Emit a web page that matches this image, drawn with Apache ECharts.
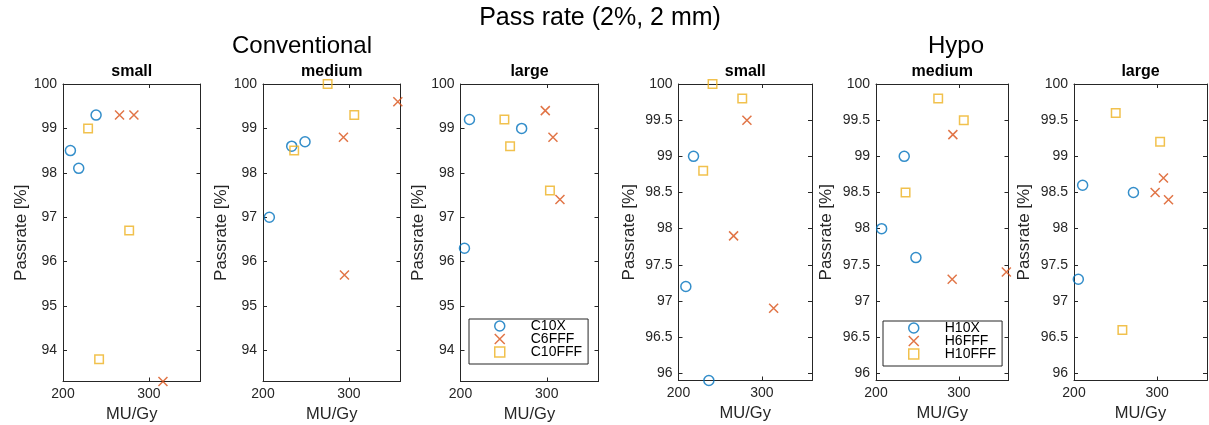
<!DOCTYPE html>
<html>
<head>
<meta charset="utf-8">
<script src="https://cdn.jsdelivr.net/npm/echarts@6/dist/echarts.min.js"></script>
<style>
  html, body { margin: 0; background: #fff; }
  #chart { width: 1209px; height: 425px; }
</style>
</head>
<body>
<div id="chart"></div>
<script>
// data: [MU/Gy, passrate %]
const convSmallC10X = [[208.6, 98.5], [218.3, 98.1], [238.5, 99.3]]
const convSmallC6FFF = [[265.8, 99.3], [282.5, 99.3], [316.3, 93.3]]
const convSmallC10FFF = [[229.2, 99.0], [277.0, 96.7], [242.0, 93.8]]

const convMediumC10X = [[207.4, 97.0], [233.4, 98.6], [248.9, 98.7]]
const convMediumC6FFF = [[293.6, 98.8], [294.8, 95.7], [356.9, 99.6]]
const convMediumC10FFF = [[275.2, 100.0], [306.2, 99.3], [236.3, 98.5]]

const convLargeC10X = [[210.4, 99.2], [204.6, 96.3], [270.9, 99.0]]
const convLargeC6FFF = [[298.3, 99.4], [307.2, 98.8], [315.3, 97.4]]
const convLargeC10FFF = [[250.9, 99.2], [257.5, 98.6], [303.7, 97.6]]

const hypoSmallH10X = [[218.0, 99.0], [208.8, 97.2], [236.4, 95.9]]
const hypoSmallH6FFF = [[282.0, 99.5], [266.0, 97.9], [314.0, 96.9]]
const hypoSmallH10FFF = [[240.8, 100.0], [276.4, 99.8], [229.6, 98.8]]

const hypoMediumH10X = [[206.8, 98.0], [234.1, 99.0], [248.2, 97.6]]
const hypoMediumH6FFF = [[292.8, 99.3], [292.0, 97.3], [357.4, 97.4]]
const hypoMediumH10FFF = [[275.1, 99.8], [306.0, 99.5], [235.7, 98.5]]

const hypoLargeH10X = [[210.4, 98.6], [205.2, 97.3], [271.5, 98.5]]
const hypoLargeH6FFF = [[297.6, 98.5], [307.6, 98.7], [313.7, 98.4]]
const hypoLargeH10FFF = [[250.2, 99.6], [303.6, 99.2], [258.2, 96.6]]

const convNames = ['C10X', 'C6FFF', 'C10FFF']
const hypoNames = ['H10X', 'H6FFF', 'H10FFF']
const sizeNames = ['small', 'medium', 'large']

const xTicks = [200, 300]
const convYTicks = [94, 95, 96, 97, 98, 99, 100]
const hypoYTicks = [96, 96.5, 97, 97.5, 98, 98.5, 99, 99.5, 100]

const ink = '#262626'
const font = 'Liberation Sans, Arial, Helvetica, sans-serif'
const colors = ['#0072BD', '#D95319', '#EDB120']
// circle, cross, square (paths so the legend keeps the aspect)
const symbols = ['circle', 'path://M0,0L10,10M0,10L10,0', 'path://M0,0L10,0L10,10L0,10Z']
const symbolSizes = [10, 9, 8.5]

// subplot boxes: left, top, width, height
const boxes = [
  [63, 84, 137.5, 297.5],
  [263, 84, 137.5, 297.5],
  [460.5, 84, 138, 297.5],
  [678.5, 84, 133.5, 296.5],
  [876, 84, 132.5, 296.5],
  [1074, 84, 133, 296.5]
]

const panels = [
  { names: convNames, data: [convSmallC10X, convSmallC6FFF, convSmallC10FFF] },
  { names: convNames, data: [convMediumC10X, convMediumC6FFF, convMediumC10FFF] },
  { names: convNames, data: [convLargeC10X, convLargeC6FFF, convLargeC10FFF] },
  { names: hypoNames, data: [hypoSmallH10X, hypoSmallH6FFF, hypoSmallH10FFF] },
  { names: hypoNames, data: [hypoMediumH10X, hypoMediumH6FFF, hypoMediumH10FFF] },
  { names: hypoNames, data: [hypoLargeH10X, hypoLargeH6FFF, hypoLargeH10FFF] }
]

const grid = []
const xAxis = []
const yAxis = []
const series = []
const graphic = []

panels.forEach((p, i) => {
  const b = boxes[i]
  const conv = i < 3
  const yMin = conv ? 93.3 : 95.9
  const yTicks = conv ? convYTicks : hypoYTicks
  grid.push({ left: b[0], top: b[1], width: b[2], height: b[3], outerBoundsMode: 'none', containLabel: false })

  const tickStyle = { inside: true, length: 4, lineStyle: { color: ink, width: 1 } }
  const lineStyle = { show: true, onZero: false, lineStyle: { color: ink, width: 1 } }

  // bottom / top x axes
  xAxis.push({
    gridIndex: i, type: 'value', min: 200, max: 360, position: 'bottom',
    name: 'MU/Gy', nameLocation: 'middle', nameGap: 23,
    nameTextStyle: { fontSize: 16.5, color: ink, fontFamily: font },
    axisLine: lineStyle,
    axisTick: Object.assign({ customValues: xTicks }, tickStyle),
    axisLabel: { customValues: xTicks, fontSize: 14, color: ink, fontFamily: font, margin: 6 },
    splitLine: { show: false }
  })
  xAxis.push({
    gridIndex: i, type: 'value', min: 200, max: 360, position: 'top',
    axisLine: lineStyle,
    axisTick: Object.assign({ customValues: xTicks }, tickStyle),
    axisLabel: { show: false },
    splitLine: { show: false }
  })

  // left / right y axes
  yAxis.push({
    gridIndex: i, type: 'value', min: yMin, max: 100, position: 'left',
    name: 'Passrate [%]', nameLocation: 'middle', nameGap: conv ? 33 : 41,
    nameTextStyle: { fontSize: 17, color: ink, fontFamily: font },
    axisLine: lineStyle,
    axisTick: Object.assign({ customValues: yTicks }, tickStyle),
    axisLabel: { customValues: yTicks, fontSize: 14, color: ink, fontFamily: font, margin: 6 },
    splitLine: { show: false }
  })
  yAxis.push({
    gridIndex: i, type: 'value', min: yMin, max: 100, position: 'right',
    axisLine: lineStyle,
    axisTick: Object.assign({ customValues: yTicks }, tickStyle),
    axisLabel: { show: false },
    splitLine: { show: false }
  })

  p.data.forEach((pts, k) => {
    series.push({
      name: p.names[k],
      type: 'scatter',
      xAxisIndex: 2 * i,
      yAxisIndex: 2 * i,
      data: pts,
      clip: false,
      symbol: symbols[k],
      symbolSize: symbolSizes[k],
      itemStyle: { color: 'rgba(0,0,0,0)', borderColor: colors[k], borderWidth: 1.5 },
      emphasis: { disabled: true }
    })
  })

  // subplot title
  graphic.push({
    type: 'text', x: b[0] + b[2] / 2, y: 72,
    style: { text: sizeNames[i % 3], fill: '#000', font: 'bold 16px ' + font, textAlign: 'center', textVerticalAlign: 'middle' }
  })
})

graphic.push({
  type: 'text', x: 600, y: 18,
  style: { text: 'Pass rate (2%, 2 mm)', fill: '#000', font: '25px ' + font, textAlign: 'center', textVerticalAlign: 'middle' }
})
graphic.push({
  type: 'text', x: 302, y: 46,
  style: { text: 'Conventional', fill: '#000', font: '24px ' + font, textAlign: 'center', textVerticalAlign: 'middle' }
})
graphic.push({
  type: 'text', x: 956, y: 46,
  style: { text: 'Hypo', fill: '#000', font: '24px ' + font, textAlign: 'center', textVerticalAlign: 'middle' }
})

const legendBase = {
  orient: 'vertical',
  itemWidth: 52,
  itemHeight: 10,
  itemGap: -1,
  padding: [0, 6, 5, 25],
  borderColor: ink,
  borderWidth: 1,
  borderRadius: 0,
  backgroundColor: '#fff',
  selectedMode: false,
  itemStyle: { borderWidth: 1.5 },
  textStyle: { fontSize: 14, color: '#000', fontFamily: font }
}

const chart = echarts.init(document.getElementById('chart'), null, { renderer: 'canvas' })
chart.setOption({
  animation: false,
  backgroundColor: '#fff',
  grid: grid,
  xAxis: xAxis,
  yAxis: yAxis,
  series: series,
  graphic: graphic,
  legend: [
    Object.assign({ data: convNames, left: 469, top: 319 }, legendBase),
    Object.assign({ data: hypoNames, left: 883, top: 321 }, legendBase)
  ]
})
</script>
</body>
</html>
